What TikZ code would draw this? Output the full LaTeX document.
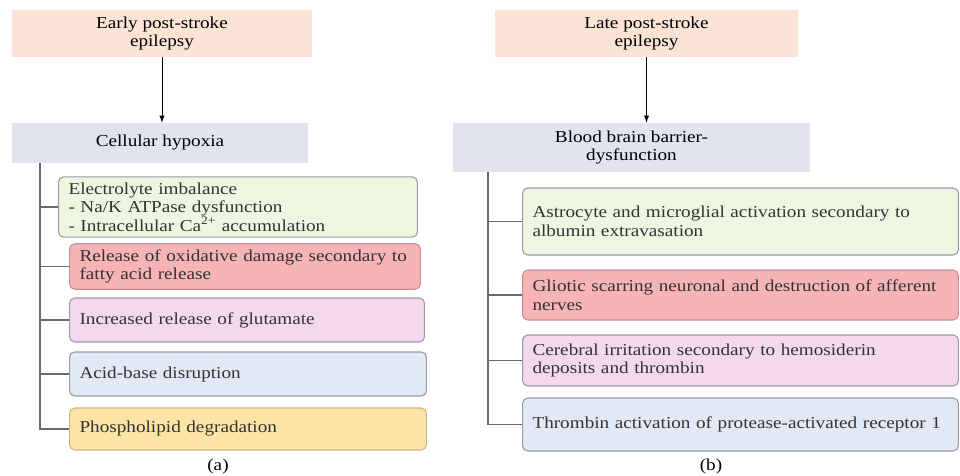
\documentclass[tikz,border=0pt]{standalone}
\usepackage{fontspec}
\setmainfont[FakeStretch=1.15]{Liberation Serif}
\usetikzlibrary{positioning}
\definecolor{peach}{RGB}{251,228,214}
\definecolor{slate}{RGB}{225,228,238}
\definecolor{greenfill}{RGB}{238,246,226}
\definecolor{redfill}{RGB}{247,180,182}
\definecolor{pinkfill}{RGB}{244,217,238}
\definecolor{bluefill}{RGB}{227,232,245}
\definecolor{goldfill}{RGB}{251,228,166}
\definecolor{edge}{RGB}{150,155,165}
\definecolor{trunk}{RGB}{105,105,120}

\begin{document}
\begin{tikzpicture}[x=0.02cm,y=-0.02cm,
		font=\fontsize{9.5}{10.5}\selectfont,
		head/.style={align=center, inner sep=2pt},
		cause/.style={draw=edge, line width=0.6pt, rounded corners=3pt, anchor=west,
			align=left, inner xsep=0.2cm, text=black!80},
		link/.style={draw=trunk, line width=0.7pt}]
		\useasboundingbox (0,0) rectangle (960,476);
		% (a) early
		\node[head, fill=peach, minimum width=6cm, minimum height=0.94cm] (early) at (162,33.5) {Early post-stroke\\epilepsy};
		\node[head, fill=slate, minimum width=5.92cm, minimum height=0.8cm] (hyp) at (160,143) {Cellular hypoxia};
		\draw[-latex] (early.south) -- (early.south |- hyp.north);
		\coordinate (trunkA) at (40,0);
		\node[cause, fill=greenfill, text width=6.78cm, minimum height=1.2cm] (elec) at (58,207) {Electrolyte imbalance\\- Na/K ATPase dysfunction\\- Intracellular Ca\smash{\textsuperscript{2+}} accumulation};
		\node[cause, fill=redfill, draw=redfill!80!black, text width=6.62cm, minimum height=0.86cm] (oxid) at (69,266.5) {Release of oxidative damage secondary to\\fatty acid release};
		\node[cause, fill=pinkfill, text width=6.7cm, minimum height=0.88cm] (glut) at (69,320) {Increased release of glutamate};
		\node[cause, fill=bluefill, text width=6.74cm, minimum height=0.88cm] (acid) at (69,374) {Acid-base disruption};
		\node[cause, fill=goldfill, draw=goldfill!80!black, text width=6.74cm, minimum height=0.84cm] (phos) at (69,429) {Phospholipid degradation};
		\draw[link] (trunkA |- hyp.south) |- (phos.west);
		\foreach \b in {elec,oxid,glut,acid}
			\draw[link] (trunkA |- \b.west) -- (\b.west);
		\node (capA) at (218,466) {(a)};
		% (b) late
		\node[head, fill=peach, minimum width=6.06cm, minimum height=0.94cm] (late) at (646.5,33.5) {Late post-stroke\\epilepsy};
		\node[head, fill=slate, minimum width=7.14cm, minimum height=0.98cm] (bbb) at (631.5,147.5) {Blood brain barrier-\\dysfunction};
		\draw[-latex] (late.south) -- (late.south |- bbb.north);
		\coordinate (trunkB) at (488,0);
		\node[cause, fill=greenfill, text width=8.32cm, minimum height=1.34cm] (astro) at (522,221.5) {Astrocyte and microglial activation secondary to\\albumin extravasation};
		\node[cause, fill=redfill, draw=redfill!80!black, text width=8.32cm, minimum height=1cm] (glio) at (522,295) {Gliotic scarring neuronal and destruction of afferent\\nerves};
		\node[cause, fill=pinkfill, text width=8.32cm, minimum height=1.02cm] (cere) at (522,360.5) {Cerebral irritation secondary to hemosiderin\\deposits and thrombin};
		\node[cause, fill=bluefill, text width=8.32cm, minimum height=1.06cm] (thro) at (522,424.5) {Thrombin activation of protease-activated receptor 1};
		\draw[link] (trunkB |- bbb.south) |- (thro.west);
		\foreach \b in {astro,glio,cere}
			\draw[link] (trunkB |- \b.west) -- (\b.west);
		\node (capB) at (711,466) {(b)};
	\end{tikzpicture}
\end{document}
